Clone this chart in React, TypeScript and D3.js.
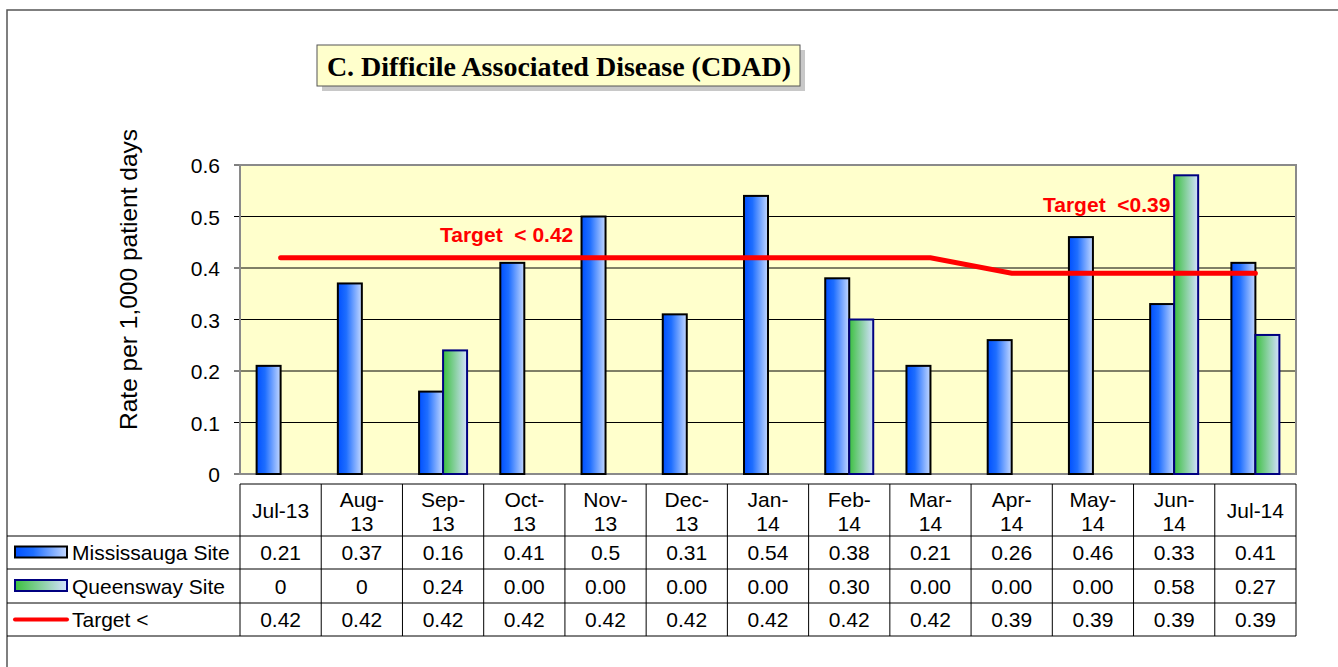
import React from 'react';
import * as d3 from 'd3';

const months = ['Jul-13', 'Aug-13', 'Sep-13', 'Oct-13', 'Nov-13', 'Dec-13', 'Jan-14', 'Feb-14', 'Mar-14', 'Apr-14', 'May-14', 'Jun-14', 'Jul-14'];
const mississauga = [0.21, 0.37, 0.16, 0.41, 0.5, 0.31, 0.54, 0.38, 0.21, 0.26, 0.46, 0.33, 0.41];
const queensway = [0, 0, 0.24, 0, 0, 0, 0, 0.3, 0, 0, 0, 0.58, 0.27];
const target = [0.42, 0.42, 0.42, 0.42, 0.42, 0.42, 0.42, 0.42, 0.42, 0.39, 0.39, 0.39, 0.39];
const missLabels = ['0.21', '0.37', '0.16', '0.41', '0.5', '0.31', '0.54', '0.38', '0.21', '0.26', '0.46', '0.33', '0.41'];
const queensLabels = ['0', '0', '0.24', '0.00', '0.00', '0.00', '0.00', '0.30', '0.00', '0.00', '0.00', '0.58', '0.27'];
const targetLabels = ['0.42', '0.42', '0.42', '0.42', '0.42', '0.42', '0.42', '0.42', '0.42', '0.39', '0.39', '0.39', '0.39'];
const yTicks = [0, 0.1, 0.2, 0.3, 0.4, 0.5, 0.6];

const W = 1338;
const H = 667;
const plotL = 240;
const plotR = 1296;
const plotT = 165;
const plotB = 474;
const arial = 'Liberation Sans, Arial, sans-serif';

export default function App() {
  const x = d3.scaleBand<string>().domain(months).range([plotL, plotR]);
  const y = d3.scaleLinear().domain([0, 0.6]).range([plotB, plotT]);
  const bw = 24;
  const cx = (m: string) => (x(m) || 0) + x.bandwidth() / 2;

  const line = d3.line<number>()
    .x((_, i) => cx(months[i]))
    .y(d => y(d));

  const headTop = 484;
  const rowTops = [536, 569, 603, 636];
  const rowData = [
    { name: 'Mississauga Site', vals: missLabels },
    { name: 'Queensway Site', vals: queensLabels },
    { name: 'Target <', vals: targetLabels },
  ];

  return (
    <svg width={W} height={H} style={{ position: 'absolute', left: 0, top: 0, background: '#fff' }}>
      <defs>
        <linearGradient id="gBlue" x1="0" x2="1" y1="0" y2="0">
          <stop offset="0%" stopColor="#0050ff" />
          <stop offset="35%" stopColor="#1e6eff" />
          <stop offset="100%" stopColor="#c4d8ff" />
        </linearGradient>
        <linearGradient id="gGreen" x1="0" x2="1" y1="0" y2="0">
          <stop offset="0%" stopColor="#3cc040" />
          <stop offset="100%" stopColor="#d4e0ff" />
        </linearGradient>
      </defs>

      {/* outer frame */}
      <rect x={7} y={10} width={W} height={H} fill="#fff" stroke="#555" strokeWidth={1.5} />

      {/* title box */}
      <rect x={322} y={50} width={483} height={41} fill="#c8c8c8" />
      <rect x={317} y={45} width={483} height={41} fill="#ffffcc" stroke="#555" strokeWidth={1} />
      <text x={559} y={76} textAnchor="middle" fontFamily="Liberation Serif, Times New Roman, serif" fontWeight="bold" fontSize={28}>
        C. Difficile Associated Disease (CDAD)
      </text>

      {/* plot area */}
      <rect x={plotL} y={plotT} width={plotR - plotL} height={plotB - plotT} fill="#ffffcc" />
      {yTicks.map(t => (
        <g key={t}>
          <line x1={plotL} x2={plotR} y1={y(t)} y2={y(t)} stroke="#000" strokeWidth={1} />
          <line x1={plotL - 6} x2={plotL} y1={y(t)} y2={y(t)} stroke="#000" strokeWidth={1} />
          <text x={220} y={y(t) + 8} textAnchor="end" fontFamily={arial} fontSize={21}>{t === 0 ? '0' : t.toFixed(1)}</text>
        </g>
      ))}
      <rect x={plotL} y={plotT} width={plotR - plotL} height={plotB - plotT} fill="none" stroke="#8a8a8a" strokeWidth={2} />

      <text transform={`translate(137, ${(plotT + plotB) / 2 - 40}) rotate(-90)`} textAnchor="middle" fontFamily={arial} fontSize={24.5}>
        Rate per 1,000 patient days
      </text>

      {/* bars */}
      {months.map((m, i) => (
        <g key={m}>
          {mississauga[i] > 0 && (
            <rect x={cx(m) - bw} y={y(mississauga[i])} width={bw} height={y(0) - y(mississauga[i])}
              fill="url(#gBlue)" stroke="#000" strokeWidth={2} />
          )}
          {queensway[i] > 0 && (
            <rect x={cx(m)} y={y(queensway[i])} width={bw} height={y(0) - y(queensway[i])}
              fill="url(#gGreen)" stroke="#000080" strokeWidth={2} />
          )}
        </g>
      ))}

      {/* target line */}
      <path d={line(target) || ''} fill="none" stroke="#ff0000" strokeWidth={5} strokeLinecap="round" />
      <text x={440} y={242} fontFamily={arial} fontWeight="bold" fontSize={21} fill="#ff0000" xmlSpace="preserve">Target  &lt; 0.42</text>
      <text x={1043} y={212} fontFamily={arial} fontWeight="bold" fontSize={21} fill="#ff0000" xmlSpace="preserve">Target  &lt;0.39</text>

      {/* data table */}
      <g fontFamily={arial} fontSize={21}>
        <line x1={plotL} x2={plotR} y1={headTop} y2={headTop} stroke="#000" />
        {rowTops.map(t => (
          <line key={t} x1={7} x2={plotR} y1={t} y2={t} stroke="#000" />
        ))}
        <line x1={plotL} x2={plotL} y1={headTop} y2={rowTops[3]} stroke="#000" />
        {months.map(m => (
          <line key={m} x1={(x(m) || 0) + x.bandwidth()} x2={(x(m) || 0) + x.bandwidth()} y1={headTop} y2={rowTops[3]} stroke="#000" />
        ))}
        {months.map(m => {
          const parts = m.split('-');
          const twoLine = m !== 'Jul-13' && m !== 'Jul-14';
          return twoLine ? (
            <text key={m} x={cx(m)} textAnchor="middle">
              <tspan x={cx(m)} y={507}>{parts[0]}-</tspan>
              <tspan x={cx(m)} y={531}>{parts[1]}</tspan>
            </text>
          ) : (
            <text key={m} x={cx(m)} y={518} textAnchor="middle">{m}</text>
          );
        })}
        {rowData.map((r, ri) => {
          const mid = (rowTops[ri] + rowTops[ri + 1]) / 2;
          return (
            <g key={r.name}>
              {ri === 0 && <rect x={15} y={mid - 6} width={52} height={11} fill="url(#gBlue)" stroke="#000" strokeWidth={2} />}
              {ri === 1 && <rect x={15} y={mid - 6} width={52} height={11} fill="url(#gGreen)" stroke="#000080" strokeWidth={2} />}
              {ri === 2 && <line x1={15} x2={67} y1={mid} y2={mid} stroke="#ff0000" strokeWidth={4} strokeLinecap="round" />}
              <text x={72} y={mid + 7.5}>{r.name}</text>
              {r.vals.map((v, i) => (
                <text key={i} x={cx(months[i])} y={mid + 7.5} textAnchor="middle">{v}</text>
              ))}
            </g>
          );
        })}
      </g>
    </svg>
  );
}
